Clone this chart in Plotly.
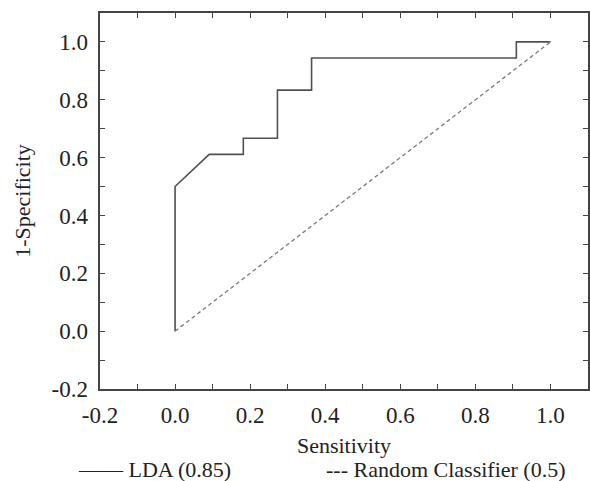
import plotly.graph_objects as go

# ROC curve (step) for LDA
lda_x = [0.0, 0.0, 0.0909, 0.1818, 0.1818, 0.2727, 0.2727, 0.3636, 0.3636, 0.9091, 0.9091, 1.0]
lda_y = [0.0, 0.5, 0.6111, 0.6111, 0.6667, 0.6667, 0.8333, 0.8333, 0.9444, 0.9444, 1.0, 1.0]
rand_x = [0.0, 1.0]
rand_y = [0.0, 1.0]
lda_name = "LDA (0.85)"
rand_name = "Random Classifier (0.5)"
tick_vals = [-0.2, 0.0, 0.2, 0.4, 0.6, 0.8, 1.0]
tick_text = ["-0.2", "0.0", "0.2", "0.4", "0.6", "0.8", "1.0"]
minor_vals = [-0.2, -0.1, 0.0, 0.1, 0.2, 0.3, 0.4, 0.5, 0.6, 0.7, 0.8, 0.9, 1.0]

FONT = "Liberation Serif"
AX = "#444444"
TXT = "#222222"

fig = go.Figure()
fig.add_trace(go.Scatter(x=lda_x, y=lda_y, mode="lines", name=lda_name,
                         line=dict(color="#505050", width=1.6)))
fig.add_trace(go.Scatter(x=rand_x, y=rand_y, mode="lines", name=rand_name,
                         line=dict(color="#7a7a7a", width=1.3, dash="4px,3px")))

base = dict(showgrid=False, zeroline=False, range=[-0.2, 1.1], automargin=False)

tick_axis = dict(
    **base, showline=True, linecolor=AX, linewidth=1.5,
    mirror=True, ticks="inside", ticklen=5, tickwidth=1, tickcolor=AX,
    tickmode="array", tickvals=minor_vals, ticktext=[""] * len(minor_vals),
)

fig.update_layout(
    xaxis=dict(**base, showline=False, ticks="", tickmode="array",
               tickvals=tick_vals, ticktext=tick_text, ticklabelstandoff=10,
               tickfont=dict(family=FONT, size=23, color=TXT),
               title=dict(text="Sensitivity", font=dict(family=FONT, size=22, color=TXT), standoff=10)),
    yaxis=dict(**base, showline=False, ticks="", tickmode="array",
               tickvals=tick_vals, ticktext=tick_text, ticklabelstandoff=11,
               tickfont=dict(family=FONT, size=23, color=TXT),
               title=dict(text="1-Specificity", font=dict(family=FONT, size=22, color=TXT), standoff=14)),
    xaxis2=dict(**tick_axis, overlaying="x", side="bottom", anchor="y"),
    xaxis3=dict(**tick_axis, overlaying="x", side="top", anchor="y"),
    yaxis2=dict(**tick_axis, overlaying="y", side="left", anchor="x"),
    yaxis3=dict(**tick_axis, overlaying="y", side="right", anchor="x"),
)

# invisible helper traces so the tick-only axes are drawn
for xa, ya in [("x2", "y2"), ("x3", "y3")]:
    fig.add_trace(go.Scatter(x=[None], y=[None], xaxis=xa, yaxis=ya,
                             showlegend=False, hoverinfo="skip"))

# text legend, as in the original figure (dash glyphs + labels)
leg_font = dict(family=FONT, size=22, color=TXT)
fig.add_annotation(text="\u2014\u2014 " + lda_name, xref="paper", yref="paper",
                   x=-0.05, y=-0.2154, xanchor="left", yanchor="middle",
                   showarrow=False, font=leg_font)
fig.add_annotation(text="--- " + rand_name, xref="paper", yref="paper",
                   x=0.458, y=-0.2154, xanchor="left", yanchor="middle",
                   showarrow=False, font=leg_font)

fig.update_layout(
    width=590, height=481,
    margin=dict(l=100, r=2, t=13, b=92, autoexpand=False),
    paper_bgcolor="white", plot_bgcolor="white",
    font=dict(family=FONT, color=TXT),
    showlegend=False,
)

fig.write_html("out.html")
